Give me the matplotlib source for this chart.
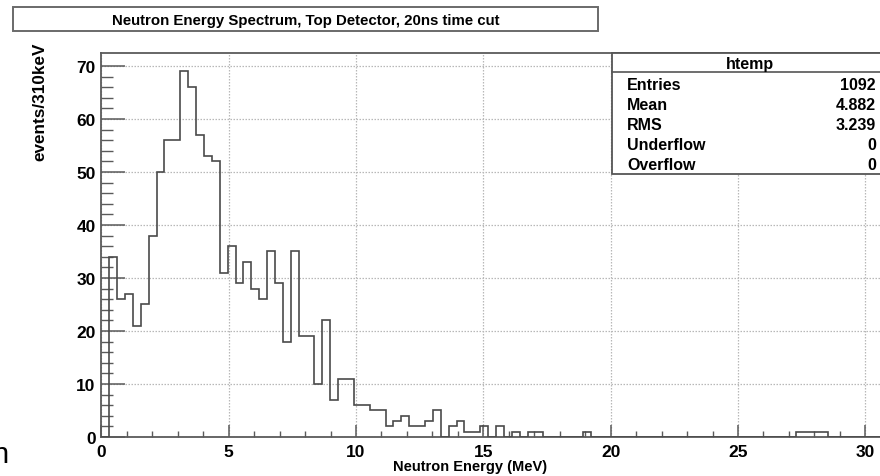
import numpy as np
import matplotlib
matplotlib.use("Agg")
import matplotlib.pyplot as plt
from matplotlib.patches import Rectangle
from matplotlib.lines import Line2D

# ---------------- data ----------------
counts = [0, 34, 26, 27, 21, 25, 38, 50, 56, 56,
          69, 66, 57, 53, 52, 31, 36, 29, 33, 28,
          26, 35, 29, 18, 35, 19, 19, 10, 22, 7,
          11, 11, 6, 6, 5, 5, 2, 3, 4, 2,
          2, 3, 5, 0, 2, 3, 1, 1, 2, 0,
          2, 0, 1, 0, 1, 1, 0, 0, 0, 0,
          0, 1, 0, 0, 0, 0, 0, 0, 0, 0,
          0, 0, 0, 0, 0, 0, 0, 0, 0, 0,
          0, 0, 0, 0, 0, 0, 0, 0, 1, 1,
          1, 1, 0, 0, 0, 0, 0, 0, 0, 0]
x_range = (0.0, 31.0)
y_top = 72.45
x_major = [0, 5, 10, 15, 20, 25, 30]
y_major = [0, 10, 20, 30, 40, 50, 60, 70]
title = "Neutron Energy Spectrum, Top Detector, 20ns time cut"
x_label = "Neutron Energy (MeV)"
y_label = "events/310keV"
hist_name = "htemp"
stat_names = ["Entries", "Mean", "RMS", "Underflow", "Overflow"]
stat_values = ["1092", "4.882", "3.239", "0", "0"]
stray_text = "n"

# ---------------- style ----------------
plt.rcParams['font.family'] = ['Liberation Sans', 'DejaVu Sans']
plt.rcParams['font.weight'] = 'bold'

W, H = 880, 477
fig = plt.figure(figsize=(W / 100, H / 100), dpi=100)
fig.patch.set_facecolor('white')

def fx(p):
    return p / W

def fy(p):
    return 1 - p / H

LINE = '#4a4a4a'
FRAME = '#5a5a5a'

ax = fig.add_axes([fx(101.3), fy(438), fx(890.8) - fx(101.3), fy(54) - fy(438)])
edges = np.linspace(x_range[0], x_range[1], len(counts) + 1)
ax.stairs(counts, edges, color=LINE, lw=1.2, zorder=3)
ax.set_xlim(*x_range)
ax.set_ylim(0, y_top)
ax.set_xticks(x_major)
ax.set_yticks(y_major)
ax.set_xticks(np.arange(0, 31, 1), minor=True)
ax.set_yticks(np.arange(0, 72, 2), minor=True)
ax.set_axisbelow(True)
ax.grid(True, which='major', color='#b8b8b8', linestyle=(0, (1.2, 1.2)), lw=0.9)
for s in ax.spines.values():
    s.set_color(FRAME)
    s.set_linewidth(1.3)
ax.tick_params(axis='x', which='major', direction='in', length=8.6, width=1.1,
               color=FRAME, labelsize=12.5, pad=5)
ax.tick_params(axis='x', which='minor', direction='in', length=4.3, width=1.0, color=FRAME)
ax.tick_params(axis='y', which='major', direction='in', length=17, width=1.1,
               color=FRAME, labelsize=12.5, pad=4)
ax.tick_params(axis='y', which='minor', direction='in', length=8.5, width=1.0, color=FRAME)

# axis titles
fig.text(fx(470), fy(467), x_label, ha='center', va='center', fontsize=10.5, fontweight='bold')
fig.text(fx(40), fy(43), y_label, ha='center', va='top', rotation=90, fontsize=12.3, fontweight='bold')

# title box
fig.patches.append(Rectangle((fx(13), fy(32)), fx(598) - fx(13), fy(8) - fy(32),
                             transform=fig.transFigure, facecolor='white',
                             edgecolor='#6a6a6a', lw=1.4, zorder=5))
fig.text(fx(306), fy(20.5), title, ha='center', va='center', fontsize=10.8, fontweight='bold', zorder=6)

# stats box
fig.patches.append(Rectangle((fx(611.7), fy(175)), fx(905) - fx(611.7), fy(54) - fy(175),
                             transform=fig.transFigure, facecolor='white',
                             edgecolor='#555555', lw=1.3, zorder=5))
fig.lines.append(Line2D([fx(611.7), fx(905)], [fy(73.3), fy(73.3)], transform=fig.transFigure,
                        color='#555555', lw=1.2, zorder=6))
fig.text(fx(750), fy(64), hist_name, ha='center', va='center', fontsize=11.5, zorder=7)
for i, (n, v) in enumerate(zip(stat_names, stat_values)):
    yy = 86 + 20 * i
    fig.text(fx(627), fy(yy), n, ha='left', va='center', fontsize=11.5, zorder=7)
    fig.text(fx(876), fy(yy), v, ha='right', va='center', fontsize=11.5, zorder=7)

# stray glyph at left edge (cut in the reference as well)
fig.text(fx(8), fy(463), stray_text, ha='right', va='baseline', fontsize=21,
         fontweight='normal', family=['Liberation Sans', 'DejaVu Sans'])

fig.savefig('out.png', dpi=100, facecolor='white')
